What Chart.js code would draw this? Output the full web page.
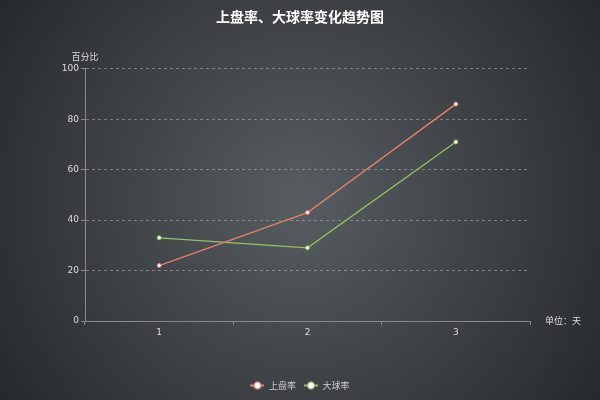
<!DOCTYPE html>
<html><head><meta charset="utf-8">
<script src="https://cdn.jsdelivr.net/npm/chart.js@4/dist/chart.umd.min.js"></script>
<style>html,body{margin:0;padding:0;background:#2b2e31;}#wrap{width:600px;height:400px;}</style>
</head><body><div id="wrap"><canvas id="c" width="600" height="400"></canvas></div>
<script>
const categories = ['1', '2', '3'];
const seriesNames = ['上盘率', '大球率'];
const shangpan = [22, 43, 86];
const daqiu = [33, 29, 71];
const yTicks = [0, 20, 40, 60, 80, 100];
const colors = ['#e2806a', '#92c360'];

function legendIcon(color){
  const c = document.createElement('canvas');
  c.width = 14; c.height = 10;
  const g = c.getContext('2d');
  g.strokeStyle = color; g.lineWidth = 2;
  g.beginPath(); g.moveTo(0,5); g.lineTo(14,5); g.stroke();
  g.fillStyle = '#fff'; g.lineWidth = 1;
  g.beginPath(); g.arc(7,5,3.5,0,Math.PI*2); g.fill(); g.stroke();
  return c;
}

const bgPlugin = {
  id: 'bg',
  beforeDraw(chart){
    const ctx = chart.ctx, w = chart.width, h = chart.height;
    const g = ctx.createRadialGradient(w/2, h/2, 0, w/2, h/2, Math.sqrt(w*w+h*h)/2);
    g.addColorStop(0, '#585d61');
    g.addColorStop(1, '#26292c');
    ctx.save(); ctx.fillStyle = g; ctx.fillRect(0,0,w,h); ctx.restore();
  },
  afterDraw(chart){
    const ctx = chart.ctx, a = chart.chartArea;
    ctx.save();
    ctx.fillStyle = '#dddddd';
    ctx.font = '9px "Noto Sans CJK SC", sans-serif';
    ctx.textAlign = 'center'; ctx.textBaseline = 'middle';
    ctx.fillText('百分比', a.left, 57);
    ctx.textAlign = 'left';
    ctx.fillText('单位：天', a.right + 15, a.bottom);
    ctx.restore();
  }
};

new Chart(document.getElementById('c'), {
  type: 'line',
  data: {
    labels: categories,
    datasets: [
      {label: seriesNames[0], data: shangpan, borderColor: colors[0], backgroundColor: '#fff',
       pointBackgroundColor: '#fff', pointBorderColor: colors[0], pointRadius: 2, pointBorderWidth: 1,
       borderWidth: 1.3, tension: 0, pointStyle: 'circle'},
      {label: seriesNames[1], data: daqiu, borderColor: colors[1], backgroundColor: '#fff',
       pointBackgroundColor: '#fff', pointBorderColor: colors[1], pointRadius: 2, pointBorderWidth: 1,
       borderWidth: 1.3, tension: 0, pointStyle: 'circle'}
    ]
  },
  options: {
    responsive: false,
    animation: false,
    devicePixelRatio: 1,
    layout: {padding: {left: 0, right: 0, top: 0, bottom: 0}},
    plugins: {
      title: {display: true, text: '上盘率、大球率变化趋势图', color: '#ffffff',
        font: {size: 14, weight: 'bold', family: '"Noto Sans CJK SC", sans-serif'},
        padding: {top: 8, bottom: 44}},
      legend: {position: 'bottom',
        labels: {color: '#cccccc', font: {size: 9, family: '"Noto Sans CJK SC", sans-serif'},
          usePointStyle: true, pointStyleWidth: 14, boxHeight: 10, padding: 8,
          generateLabels(chart){
            return chart.data.datasets.map((d,i)=>({text: d.label, fillStyle: '#fff', strokeStyle: colors[i],
              pointStyle: legendIcon(colors[i]), fontColor: '#cccccc', datasetIndex: i, lineWidth: 0, hidden: false}));
          }}},
      tooltip: {enabled: false}
    },
    scales: {
      x: {
        type: 'category', offset: true,
        afterFit(s){ s.height = 52; },
        grid: {display: true, offset: true, drawOnChartArea: false, drawTicks: true, tickLength: 4, color: '#888'},
        border: {display: true, color: '#8a8a8a', width: 1},
        ticks: {color: '#dddddd', font: {size: 9, family: 'DejaVu Sans'}, padding: 2}
      },
      y: {
        min: 0, max: 100,
        afterFit(s){ s.width = 85; },
        afterBuildTicks(s){ s.ticks = yTicks.map(v=>({value: v})); },
        grid: {display: true, color: 'rgba(170,170,170,0.6)', tickColor: '#888', tickLength: 4, drawTicks: true},
        border: {display: true, color: '#8a8a8a', width: 1, dash: [3,3]},
        ticks: {color: '#dddddd', font: {size: 9, family: 'DejaVu Sans'}, padding: 2}
      },
      yRight: {
        position: 'right', min: 0, max: 100,
        afterFit(s){ s.width = 70; },
        grid: {display: false}, border: {display: false}, ticks: {display: false}
      }
    }
  },
  plugins: [bgPlugin]
});
</script></body></html>
